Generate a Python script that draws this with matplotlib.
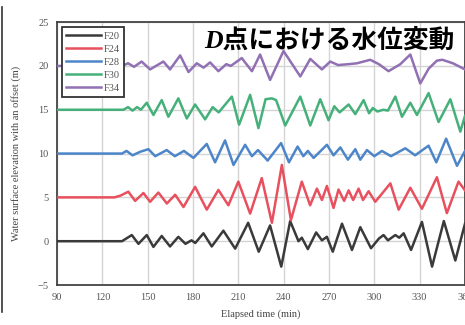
import matplotlib
matplotlib.use('Agg')
import matplotlib.pyplot as plt
from matplotlib.lines import Line2D

#data (elapsed time in min, elevation in m, offset added when plotting)
t_f20 = [90, 133, 139.5, 143.9, 149.4, 153.8, 159.3, 164.8, 170.3, 175, 179, 181.5, 186.9, 192.4, 200.1, 207.9,
         216.5, 223.5, 231, 238.4, 244.3, 249.8, 252, 256, 261.5, 265.3, 268.6, 272.5, 278.6, 285.2, 290.7,
         297.8, 303, 306.1, 309, 313.9, 316.5, 319.4, 324.3, 331.5, 338.2, 346, 353.6, 360]
h_f20 = [0, 0, 0.7, -0.3, 0.7, -0.65, 0.6, -0.6, 0.5, -0.3, 0.1, -0.2, 0.9, -0.6, 1.2, -0.85,
         2.1, -1.2, 1.8, -2.9, 2.3, 0.0, 0.4, -0.9, 1.0, 0.1, 0.5, -1.2, 2.0, -1.0, 1.6,
         -0.8, 0.3, 0.7, 0.1, 0.7, 0.4, 0.9, -1.0, 2.2, -2.9, 2.3, -2.2, 2.0]

t_f24 = [90, 128, 132, 137.2, 141.7, 147.2, 151.6, 157.1, 162.7, 168.2, 173.7, 181.4, 189.1, 196.8, 203.4, 210,
         217.8, 225.5, 232.2, 238.8, 244.8, 252, 257.5, 262, 265.3, 268.6, 273, 276.3, 280, 283, 286, 289.6,
         292.5, 296.2, 300.6, 304, 310.6, 316.1, 323.8, 331.5, 341.4, 348, 355.7, 360]
h_f24 = [0, 0, 0.2, 0.65, -0.4, 0.5, -0.5, 0.55, -0.7, 0.3, -1.1, 1.2, -1.4, 0.85, -0.9, 1.8,
         -1.85, 2.2, -2.9, 3.7, -2.6, 1.8, -0.9, 1.0, -0.3, 1.3, -1.2, 0.9, -0.4, 0.8, -0.3, 1.0,
         -0.3, 0.7, -0.5, 0.2, 1.6, -1.4, 1.1, -1.3, 2.3, -1.8, 1.8, 0.8]

t_f28 = [90, 133, 136, 140, 145, 150.5, 155, 162.6, 168, 174, 180.3, 189.1, 194.6, 201.2, 206.8, 214.5, 219,
         223, 229.4, 238.3, 243.5, 249.2, 253, 256, 259.8, 268.6, 273, 277.5, 282.5, 287.4, 290.7, 295.1,
         300, 305, 311, 320.5, 327, 335.9, 341, 347.5, 354.7, 360]
h_f28 = [0, 0, 0.3, -0.2, 0.2, 0.5, -0.3, 0.4, -0.3, 0.3, -0.5, 1.1, -1.0, 1.5, -1.3, 1.0, -0.3,
         0.4, -0.8, 1.2, -1.0, 0.8, -0.3, 0.3, -0.5, 1.0, -0.2, 0.7, -0.7, 0.5, -0.7, 0.4,
         -0.3, 0.3, -0.3, 0.6, -0.2, 0.9, -1.0, 1.7, -1.4, 0.3]

t_f30 = [90, 134, 137, 140, 143, 145.5, 149.4, 153.8, 159.3, 163.7, 170.3, 175.9, 181.4, 188, 193, 197,
         205.7, 210.5, 217.8, 223.3, 228, 232.2, 235, 241, 251, 257.6, 264.2, 269.7, 273.5, 277, 283,
         287.4, 292.9, 296.5, 299, 302, 306, 309, 313.9, 318.3, 323.8, 328.2, 335.9, 342.5, 350.3, 356.9, 360]
h_f30 = [0, 0, 0.3, -0.1, 0.3, 0.0, 0.8, -0.6, 1.1, -0.8, 1.3, -1.0, 0.6, -1.1, 0.3, -0.3,
         1.5, -1.7, 1.7, -2.1, 1.2, 1.3, 1.1, -1.8, 1.5, -1.8, 1.2, -1.2, 0.4, -0.3, 0.6,
         -0.5, 1.1, -0.4, 0.2, -0.2, 0.0, -0.1, 1.5, -0.8, 0.8, -0.6, 1.9, -1.4, 1.2, -2.5, -0.7]

t_f34 = [90, 133, 137, 141, 146, 151.6, 160.4, 164.8, 171.5, 177, 182.5, 187, 191.3, 196.8, 202, 205,
         212.3, 214, 219, 224.4, 231, 239.9, 251, 257.6, 265.3, 270.8, 276, 283, 288.5, 297.3, 303,
         309.4, 317.2, 323.8, 330.4, 336, 341.4, 345, 352, 360]
h_f34 = [0, 0, 0.3, -0.1, 0.5, -0.4, 0.5, -0.4, 1.2, -0.7, 0.3, -0.2, 0.4, -0.6, 0.2, 0.0,
         0.9, 0.5, -0.6, 1.3, -1.6, 1.7, -1.2, 0.8, -0.4, 0.5, 0.1, 0.2, 0.3, 0.7, 0.2,
         -0.6, 0.2, 1.3, -2.0, -0.3, 0.6, 0.7, 0.3, -0.4]

names = ['F20', 'F24', 'F28', 'F30', 'F34']
offsets = [0, 5, 10, 15, 20]
colors = ['#3a3a3a', '#e8505e', '#4d86c8', '#45b07a', '#9170b3']
series = [(t_f20, h_f20), (t_f24, h_f24), (t_f28, h_f28), (t_f30, h_f30), (t_f34, h_f34)]

x_ticks = [90, 120, 150, 180, 210, 240, 270, 300, 330, 360]
y_ticks = [-5, 0, 5, 10, 15, 20, 25]

serif = 'Liberation Serif'

fig = plt.figure(figsize=(4.65, 3.25), dpi=100)
ax = fig.add_axes([0.1226, 0.123, 0.8774, 0.809])

for (t, h), off, c, n in zip(series, offsets, colors, names):
    ax.plot(t, [v + off for v in h], color=c, lw=1.8, label=n, solid_joinstyle='round', zorder=3)

ax.set_xlim(90, 360)
ax.set_ylim(-5, 25)
ax.set_xticks(x_ticks)
ax.set_yticks(y_ticks)
ax.grid(True, color='#d4d4d4', lw=1.0, zorder=0)
for s in ax.spines.values():
    s.set_color('#444444')
    s.set_linewidth(1.3)
ax.tick_params(length=0, pad=6, labelsize=7.5, labelcolor='#555555')
for lab in ax.get_xticklabels() + ax.get_yticklabels():
    lab.set_family(serif)

ax.set_xlabel('Elapsed time (min)', family=serif, fontsize=7.5, color='#444444', labelpad=5)
ax.set_ylabel('Water surface elevation with an offset (m)', family=serif, fontsize=7.5, color='#444444', labelpad=12)

leg = ax.legend(loc='upper left', bbox_to_anchor=(0.0, 1.0), fancybox=False, framealpha=1,
                edgecolor='#333333', handlelength=3.3, handletextpad=0.3, borderpad=0.4,
                labelspacing=0.35, prop={'family': serif, 'size': 7.5})
leg.get_frame().set_linewidth(1.3)
for txt in leg.get_texts():
    txt.set_color('#555555')

ax.text(0.975, 0.93, 'D点における水位変動', transform=ax.transAxes, ha='right', va='center',
        fontsize=18.5, fontweight='bold', style='italic', family=[serif, 'Noto Sans CJK JP'], zorder=5)

#frame edge at the left of the screenshot
fig.add_artist(Line2D([0.005, 0.005], [0.04, 0.98], color='#333333', lw=1.2))

fig.savefig('out.png', dpi=100)
